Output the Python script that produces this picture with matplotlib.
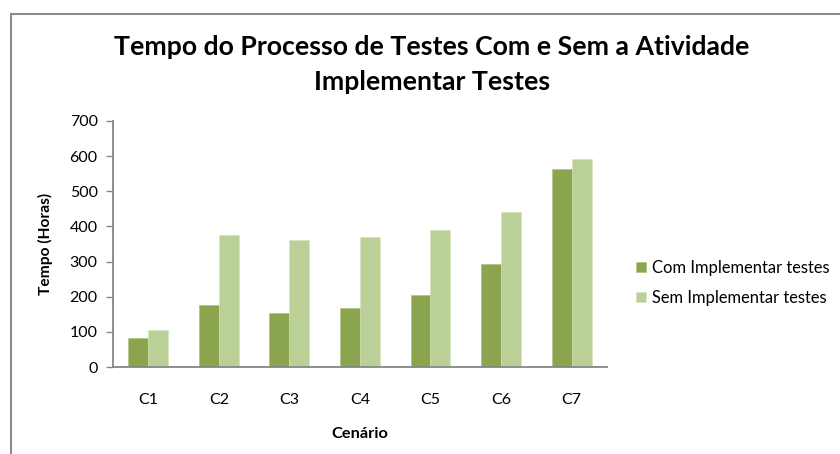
import matplotlib.pyplot as plt
import numpy as np

plt.rcParams['font.family'] = ['Lato', 'DejaVu Sans']

cenarios = ["C1", "C2", "C3", "C4", "C5", "C6", "C7"]
com_implementar = [82, 176, 153, 167, 206, 292, 564]
sem_implementar = [106, 375, 362, 369, 391, 441, 593]

cor_com = "#8BA54E"
cor_sem = "#BAD096"
cor_eixo = "#868686"

fig = plt.figure(figsize=(8.4, 4.54), dpi=100)
ax = fig.add_axes([0.1345, 0.1916, 0.588, 0.5419])

x = np.arange(len(cenarios))
largura = 0.283
ax.bar(x - largura / 2, com_implementar, largura, color=cor_com,
       edgecolor="#A9C078", linewidth=0.4, label="Com Implementar testes")
ax.bar(x + largura / 2, sem_implementar, largura, color=cor_sem,
       edgecolor="#D3E2BC", linewidth=0.4, label="Sem Implementar testes")

ax.set_xlim(-0.5, len(cenarios) - 0.5)
ax.set_ylim(0, 700)
ax.set_yticks(range(0, 701, 100))
ax.set_xticks(x)
ax.set_xticklabels(cenarios)

for lado in ["top", "right"]:
    ax.spines[lado].set_visible(False)
for lado in ["left", "bottom"]:
    ax.spines[lado].set_color(cor_eixo)
    ax.spines[lado].set_linewidth(1.3)
ax.tick_params(axis="y", length=5, width=1.0, color=cor_eixo, labelsize=11.5, pad=6)
ax.tick_params(axis="x", length=0, labelsize=11.5, pad=19)

ax.set_ylabel("Tempo (Horas)", fontsize=11.2, fontweight="bold", labelpad=12)
ax.set_xlabel("Cenário", fontsize=11.8, fontweight="bold", labelpad=14)

fig.text(0.514, 0.858, "Tempo do Processo de Testes Com e Sem a Atividade\nImplementar Testes",
         ha="center", va="center", fontsize=19.2, fontweight="bold", linespacing=1.55)

ax.legend(loc="center left", bbox_to_anchor=(0.757, 0.377), bbox_transform=fig.transFigure,
          frameon=False, fontsize=11.9, handlelength=0.6, handleheight=0.6,
          handletextpad=0.4, labelspacing=0.85, borderpad=0, borderaxespad=0)

# moldura parcial do gráfico
fig.add_artist(plt.Line2D([0.013, 1.0], [0.969, 0.969], color="#8C8C8C", linewidth=1.5,
                          transform=fig.transFigure))
fig.add_artist(plt.Line2D([0.013, 0.013], [0.0, 0.969], color="#8C8C8C", linewidth=1.5,
                          transform=fig.transFigure))

fig.savefig("out.png", dpi=100)
